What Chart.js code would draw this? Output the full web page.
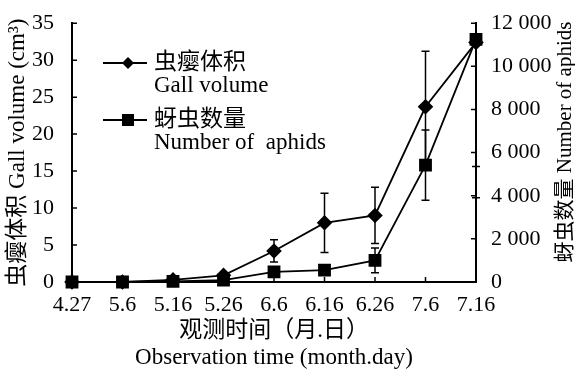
<!DOCTYPE html>
<html>
<head>
<meta charset="utf-8">
<script src="https://cdn.jsdelivr.net/npm/chart.js@4/dist/chart.umd.min.js"></script>
<style>
  html, body { margin: 0; padding: 0; background: #fff; }
  #wrap { width: 575px; height: 372px; }
</style>
</head>
<body>
<div id="wrap"><canvas id="myChart" width="575" height="372"></canvas></div>
<script>
// Datos del gráfico
const fechas = ["4.27", "5.6", "5.16", "5.26", "6.6", "6.16", "6.26", "7.6", "7.16"];
const volumenAgalla = [0, 0, 0.3, 0.9, 4.2, 8.0, 9.0, 23.7, 32.4];
const errorAgalla = [0, 0, 0.1, 0.2, 1.5, 4.0, 3.8, 7.5, 21.0];
const numeroAfidos = [0, 0, 30, 90, 470, 550, 1000, 5420, 11250];
const errorAfidos = [0, 0, 10, 30, 120, 180, 575, 1630, 5900];
const ticksIzq = [0, 5, 10, 15, 20, 25, 30, 35];
const ticksDer = [0, 2000, 4000, 6000, 8000, 10000, 12000];

const fuente = "'Liberation Serif', 'Noto Sans CJK SC', serif";

// Formato "12 000"
function formatoMiles(v) {
  return String(v).replace(/\B(?=(\d{3})+(?!\d))/g, " ");
}

// Barras de error
const barrasError = {
  id: "barrasError",
  beforeDatasetsDraw(chart) {
    const { ctx, chartArea } = chart;
    const series = [
      { datos: volumenAgalla, err: errorAgalla, escala: chart.scales.y },
      { datos: numeroAfidos, err: errorAfidos, escala: chart.scales.y1 },
    ];
    ctx.save();
    ctx.beginPath();
    ctx.rect(chartArea.left - 10, chartArea.top, chartArea.width + 20, chartArea.height);
    ctx.clip();
    ctx.strokeStyle = "#000";
    ctx.lineWidth = 1.5;
    series.forEach(({ datos, err, escala }) => {
      datos.forEach((v, i) => {
        if (!err[i]) return;
        const x = chart.scales.x.getPixelForValue(i);
        const yTop = escala.getPixelForValue(v + err[i]);
        const yBot = escala.getPixelForValue(v - err[i]);
        ctx.beginPath();
        ctx.moveTo(x, yTop);
        ctx.lineTo(x, yBot);
        ctx.moveTo(x - 4, yTop);
        ctx.lineTo(x + 4, yTop);
        ctx.moveTo(x - 4, yBot);
        ctx.lineTo(x + 4, yBot);
        ctx.stroke();
      });
    });
    ctx.restore();
  },
};

// Marcas de eje hacia dentro, titulo derecho y leyenda
const extras = {
  id: "extras",
  afterDraw(chart) {
    const { ctx, chartArea, scales } = chart;
    ctx.save();
    ctx.strokeStyle = "#000";
    ctx.lineWidth = 1.5;
    ctx.beginPath();
    ticksIzq.forEach((t) => {
      const y = scales.y.getPixelForValue(t);
      ctx.moveTo(chartArea.left, y);
      ctx.lineTo(chartArea.left + 5, y);
    });
    ticksDer.forEach((t) => {
      const y = scales.y1.getPixelForValue(t);
      ctx.moveTo(chartArea.right, y);
      ctx.lineTo(chartArea.right - 5, y);
    });
    fechas.forEach((f, i) => {
      const x = scales.x.getPixelForValue(i);
      ctx.moveTo(x, chartArea.bottom);
      ctx.lineTo(x, chartArea.bottom - 5);
    });
    ctx.stroke();

    // titulo del eje derecho
    ctx.fillStyle = "#000";
    ctx.font = "21px " + fuente;
    ctx.textAlign = "center";
    ctx.textBaseline = "middle";
    ctx.translate(565, 142);
    ctx.rotate(-Math.PI / 2);
    ctx.fillText("蚜虫数量 Number of aphids", 0, 0);
    ctx.restore();

    // leyenda
    ctx.save();
    ctx.strokeStyle = "#000";
    ctx.fillStyle = "#000";
    ctx.lineWidth = 1.8;
    ctx.beginPath();
    ctx.moveTo(103, 63);
    ctx.lineTo(147, 63);
    ctx.moveTo(103, 120);
    ctx.lineTo(147, 120);
    ctx.stroke();
    ctx.beginPath();
    ctx.moveTo(128, 57);
    ctx.lineTo(134, 63);
    ctx.lineTo(128, 69);
    ctx.lineTo(122, 63);
    ctx.closePath();
    ctx.fill();
    ctx.fillRect(122, 114, 12, 12);
    ctx.font = "23px " + fuente;
    ctx.textAlign = "left";
    ctx.textBaseline = "middle";
    ctx.fillText("虫瘿体积", 154, 63);
    ctx.fillText("Gall volume", 154, 86);
    ctx.fillText("蚜虫数量", 154, 120);
    ctx.fillText("Number of  aphids", 154, 143);
    ctx.restore();
  },
};

const config = {
  type: "line",
  data: {
    labels: fechas,
    datasets: [
      {
        label: "虫瘿体积 Gall volume",
        data: volumenAgalla,
        yAxisID: "y",
        order: 1,
        borderColor: "#000",
        backgroundColor: "#000",
        borderWidth: 1.8,
        pointStyle: "rectRot",
        pointRadius: 6.5,
        pointHoverRadius: 6.5,
        tension: 0,
        clip: false,
      },
      {
        label: "蚜虫数量 Number of aphids",
        data: numeroAfidos,
        yAxisID: "y1",
        order: 0,
        borderColor: "#000",
        backgroundColor: "#000",
        borderWidth: 1.8,
        pointStyle: "rect",
        pointRadius: 7.8,
        pointHoverRadius: 7.8,
        tension: 0,
        clip: false,
      },
    ],
  },
  options: {
    responsive: false,
    animation: false,
    layout: { padding: { top: 19, left: 0, right: 0, bottom: 0 } },
    plugins: { legend: { display: false }, tooltip: { enabled: false } },
    scales: {
      x: {
        offset: false,
        grid: { display: false },
        border: { display: true, color: "#000", width: 2 },
        ticks: {
          autoSkip: false,
          maxRotation: 0,
          padding: 2,
          color: "#000",
          font: { family: fuente, size: 22 },
        },
        title: {
          display: true,
          text: ["观测时间（月.日）", "Observation time (month.day)"],
          color: "#000",
          font: { family: fuente, size: 23, lineHeight: 1.2 },
          padding: { top: 0, bottom: 0 },
        },
        afterFit(scale) {
          scale.height = 90;
        },
      },
      y: {
        position: "left",
        min: 0,
        max: 35,
        grid: { display: false },
        border: { display: true, color: "#000", width: 2 },
        ticks: {
          stepSize: 5,
          padding: 10,
          color: "#000",
          font: { family: fuente, size: 22 },
        },
        title: {
          display: true,
          text: "虫瘿体积 Gall volume (cm³)",
          color: "#000",
          font: { family: fuente, size: 23, lineHeight: 1.2 },
          padding: { top: 4, bottom: 0 },
        },
        afterFit(scale) {
          scale.width = 72;
        },
      },
      y1: {
        position: "right",
        min: 0,
        max: 12000,
        grid: { display: false },
        border: { display: true, color: "#000", width: 2 },
        ticks: {
          stepSize: 2000,
          padding: 7,
          color: "#000",
          font: { family: fuente, size: 22 },
          callback: (v) => formatoMiles(v),
        },
        afterFit(scale) {
          scale.width = 99;
        },
      },
    },
  },
  plugins: [barrasError, extras],
};

const myChart = new Chart(document.getElementById("myChart"), config);
</script>
</body>
</html>
